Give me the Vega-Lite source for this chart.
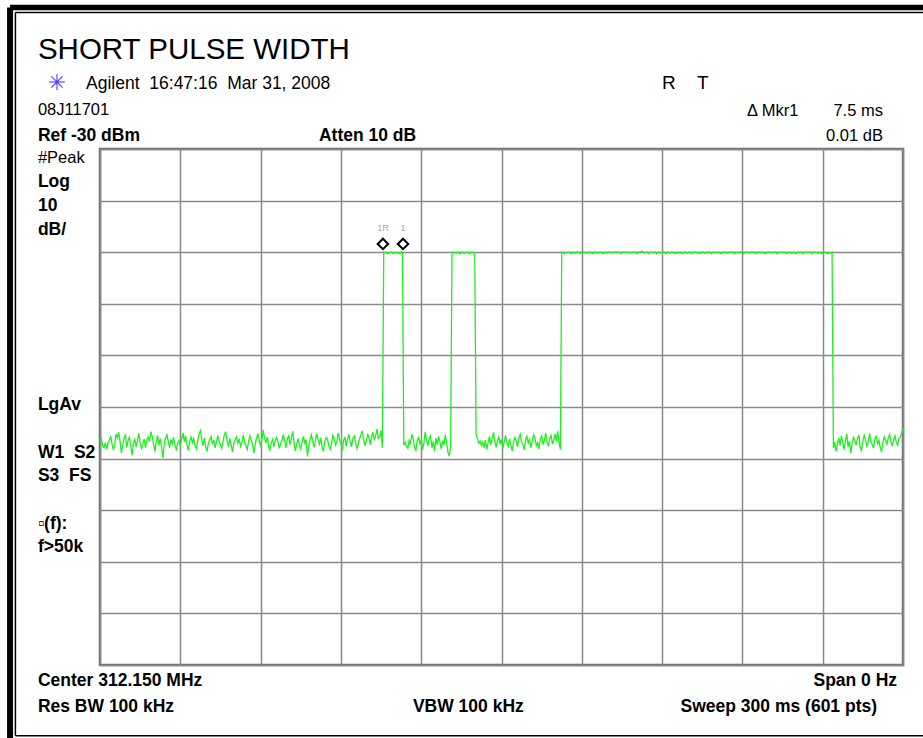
{
"$schema": "https://vega.github.io/schema/vega-lite/v6.json",
"usermeta": {"embedOptions": {"actions": false}},
"width": 803, "height": 516,
"autosize": {"type": "none"},
"padding": {"left": 100, "top": 149, "right": 20, "bottom": 73},
"background": "white",
"config": {"view": {"stroke": "#6e6e6e", "strokeWidth": 2.5}, "font": "Liberation Sans"},
"datasets": {
"trace": [
{"ms":0,"dBm":-86.8},{"ms":0.5,"dBm":-86.2},{"ms":1,"dBm":-87.5},{"ms":1.5,"dBm":-87.9},{"ms":2,"dBm":-86.9},{"ms":2.5,"dBm":-88.1},{"ms":3,"dBm":-87.0},{"ms":3.5,"dBm":-86.4},{"ms":4,"dBm":-85.6},{"ms":4.5,"dBm":-87.2},
{"ms":5,"dBm":-88.3},{"ms":5.5,"dBm":-87.1},{"ms":6,"dBm":-85.2},{"ms":6.5,"dBm":-86.0},{"ms":7,"dBm":-84.9},{"ms":7.5,"dBm":-86.7},{"ms":8,"dBm":-88.9},{"ms":8.5,"dBm":-87.4},{"ms":9,"dBm":-86.1},{"ms":9.5,"dBm":-85.3},
{"ms":10,"dBm":-87.8},{"ms":10.5,"dBm":-86.5},{"ms":11,"dBm":-85.9},{"ms":11.5,"dBm":-87.6},{"ms":12,"dBm":-89.4},{"ms":12.5,"dBm":-87.0},{"ms":13,"dBm":-86.3},{"ms":13.5,"dBm":-87.7},{"ms":14,"dBm":-86.6},{"ms":14.5,"dBm":-85.1},
{"ms":15,"dBm":-86.9},{"ms":15.5,"dBm":-88.0},{"ms":16,"dBm":-87.3},{"ms":16.5,"dBm":-86.2},{"ms":17,"dBm":-87.9},{"ms":17.5,"dBm":-86.4},{"ms":18,"dBm":-85.8},{"ms":18.5,"dBm":-86.7},{"ms":19,"dBm":-84.8},{"ms":19.5,"dBm":-85.7},
{"ms":20,"dBm":-87.2},{"ms":20.5,"dBm":-88.6},{"ms":21,"dBm":-86.8},{"ms":21.5,"dBm":-85.5},{"ms":22,"dBm":-87.4},{"ms":22.5,"dBm":-86.1},{"ms":23,"dBm":-87.8},{"ms":23.5,"dBm":-89.9},{"ms":24,"dBm":-87.3},{"ms":24.5,"dBm":-86.0},
{"ms":25,"dBm":-85.4},{"ms":25.5,"dBm":-86.6},{"ms":26,"dBm":-87.9},{"ms":26.5,"dBm":-86.3},{"ms":27,"dBm":-87.1},{"ms":27.5,"dBm":-85.9},{"ms":28,"dBm":-87.5},{"ms":28.5,"dBm":-88.2},{"ms":29,"dBm":-87.0},{"ms":29.5,"dBm":-86.5},
{"ms":30,"dBm":-87.6},{"ms":30.5,"dBm":-86.2},{"ms":31,"dBm":-85.0},{"ms":31.5,"dBm":-86.8},{"ms":32,"dBm":-85.6},{"ms":32.5,"dBm":-87.3},{"ms":33,"dBm":-88.4},{"ms":33.5,"dBm":-86.7},{"ms":34,"dBm":-85.8},{"ms":34.5,"dBm":-86.9},
{"ms":35,"dBm":-86.1},{"ms":35.5,"dBm":-87.4},{"ms":36,"dBm":-88.1},{"ms":36.5,"dBm":-86.6},{"ms":37,"dBm":-85.3},{"ms":37.5,"dBm":-84.6},{"ms":38,"dBm":-86.2},{"ms":38.5,"dBm":-87.5},{"ms":39,"dBm":-86.0},{"ms":39.5,"dBm":-87.8},
{"ms":40,"dBm":-88.6},{"ms":40.5,"dBm":-87.0},{"ms":41,"dBm":-86.3},{"ms":41.5,"dBm":-85.7},{"ms":42,"dBm":-87.2},{"ms":42.5,"dBm":-86.4},{"ms":43,"dBm":-87.9},{"ms":43.5,"dBm":-86.8},{"ms":44,"dBm":-85.5},{"ms":44.5,"dBm":-86.7},
{"ms":45,"dBm":-87.3},{"ms":45.5,"dBm":-88.0},{"ms":46,"dBm":-86.6},{"ms":46.5,"dBm":-85.2},{"ms":47,"dBm":-84.9},{"ms":47.5,"dBm":-86.5},{"ms":48,"dBm":-87.7},{"ms":48.5,"dBm":-86.1},{"ms":49,"dBm":-87.4},{"ms":49.5,"dBm":-88.7},
{"ms":50,"dBm":-87.1},{"ms":50.5,"dBm":-86.3},{"ms":51,"dBm":-85.8},{"ms":51.5,"dBm":-87.0},{"ms":52,"dBm":-86.2},{"ms":52.5,"dBm":-87.6},{"ms":53,"dBm":-86.9},{"ms":53.5,"dBm":-85.4},{"ms":54,"dBm":-86.8},{"ms":54.5,"dBm":-87.5},
{"ms":55,"dBm":-88.2},{"ms":55.5,"dBm":-86.7},{"ms":56,"dBm":-85.6},{"ms":56.5,"dBm":-86.4},{"ms":57,"dBm":-87.3},{"ms":57.5,"dBm":-88.9},{"ms":58,"dBm":-87.2},{"ms":58.5,"dBm":-86.0},{"ms":59,"dBm":-85.1},{"ms":59.5,"dBm":-86.6},
{"ms":60,"dBm":-87.4},{"ms":60.5,"dBm":-86.2},{"ms":61,"dBm":-84.5},{"ms":61.5,"dBm":-86.1},{"ms":62,"dBm":-87.0},{"ms":62.5,"dBm":-85.8},{"ms":63,"dBm":-87.6},{"ms":63.5,"dBm":-88.3},{"ms":64,"dBm":-86.9},{"ms":64.5,"dBm":-86.3},
{"ms":65,"dBm":-87.7},{"ms":65.5,"dBm":-86.5},{"ms":66,"dBm":-85.9},{"ms":66.5,"dBm":-86.8},{"ms":67,"dBm":-88.0},{"ms":67.5,"dBm":-87.1},{"ms":68,"dBm":-86.4},{"ms":68.5,"dBm":-85.3},{"ms":69,"dBm":-86.6},{"ms":69.5,"dBm":-87.9},
{"ms":70,"dBm":-86.2},{"ms":70.5,"dBm":-85.6},{"ms":71,"dBm":-87.3},{"ms":71.5,"dBm":-86.0},{"ms":72,"dBm":-84.7},{"ms":72.5,"dBm":-86.9},{"ms":73,"dBm":-88.5},{"ms":73.5,"dBm":-87.2},{"ms":74,"dBm":-86.1},{"ms":74.5,"dBm":-87.4},
{"ms":75,"dBm":-88.1},{"ms":75.5,"dBm":-86.8},{"ms":76,"dBm":-85.7},{"ms":76.5,"dBm":-87.0},{"ms":77,"dBm":-86.3},{"ms":77.5,"dBm":-89.6},{"ms":78,"dBm":-87.5},{"ms":78.5,"dBm":-86.2},{"ms":79,"dBm":-85.4},{"ms":79.5,"dBm":-86.7},
{"ms":80,"dBm":-87.8},{"ms":80.5,"dBm":-86.4},{"ms":81,"dBm":-85.1},{"ms":81.5,"dBm":-86.5},{"ms":82,"dBm":-87.2},{"ms":82.5,"dBm":-86.0},{"ms":83,"dBm":-87.9},{"ms":83.5,"dBm":-88.6},{"ms":84,"dBm":-86.6},{"ms":84.5,"dBm":-85.9},
{"ms":85,"dBm":-86.3},{"ms":85.5,"dBm":-87.5},{"ms":86,"dBm":-88.2},{"ms":86.5,"dBm":-86.9},{"ms":87,"dBm":-85.5},{"ms":87.5,"dBm":-86.1},{"ms":88,"dBm":-87.4},{"ms":88.5,"dBm":-86.7},{"ms":89,"dBm":-85.0},{"ms":89.5,"dBm":-86.4},
{"ms":90,"dBm":-87.1},{"ms":90.5,"dBm":-88.4},{"ms":91,"dBm":-86.5},{"ms":91.5,"dBm":-85.8},{"ms":92,"dBm":-87.6},{"ms":92.5,"dBm":-86.2},{"ms":93,"dBm":-85.3},{"ms":93.5,"dBm":-86.8},{"ms":94,"dBm":-87.7},{"ms":94.5,"dBm":-86.0},
{"ms":95,"dBm":-85.6},{"ms":95.5,"dBm":-86.9},{"ms":96,"dBm":-88.0},{"ms":96.5,"dBm":-87.2},{"ms":97,"dBm":-86.1},{"ms":97.5,"dBm":-85.4},{"ms":98,"dBm":-84.6},{"ms":98.5,"dBm":-86.3},{"ms":99,"dBm":-87.5},{"ms":99.5,"dBm":-86.6},
{"ms":100,"dBm":-85.2},{"ms":100.5,"dBm":-86.0},{"ms":101,"dBm":-87.3},{"ms":101.5,"dBm":-85.7},{"ms":102,"dBm":-84.9},{"ms":102.5,"dBm":-86.4},{"ms":103,"dBm":-85.5},{"ms":103.5,"dBm":-84.3},{"ms":104,"dBm":-86.1},{"ms":104.5,"dBm":-85.8},
{"ms":105,"dBm":-84.6},{"ms":105.5,"dBm":-87.9},
{"ms":106,"dBm":-50.0},{"ms":106.5,"dBm":-50.1},{"ms":107,"dBm":-50.0},{"ms":107.5,"dBm":-50.3},{"ms":108,"dBm":-50.2},{"ms":108.5,"dBm":-50.0},{"ms":109,"dBm":-50.0},{"ms":109.5,"dBm":-50.3},{"ms":110,"dBm":-50.1},{"ms":110.5,"dBm":-50.0},{"ms":111,"dBm":-50.2},{"ms":111.5,"dBm":-50.0},{"ms":112,"dBm":-50.3},{"ms":112.5,"dBm":-50.0},{"ms":113,"dBm":-50.0},
{"ms":113.5,"dBm":-87.4},{"ms":114,"dBm":-86.9},{"ms":114.5,"dBm":-87.6},{"ms":115,"dBm":-88.0},{"ms":115.5,"dBm":-86.5},{"ms":116,"dBm":-87.2},{"ms":116.5,"dBm":-85.3},{"ms":117,"dBm":-86.1},{"ms":117.5,"dBm":-87.8},{"ms":118,"dBm":-88.4},
{"ms":118.5,"dBm":-86.6},{"ms":119,"dBm":-85.9},{"ms":119.5,"dBm":-87.1},{"ms":120,"dBm":-86.3},{"ms":120.5,"dBm":-88.2},{"ms":121,"dBm":-87.0},{"ms":121.5,"dBm":-84.8},{"ms":122,"dBm":-86.4},{"ms":122.5,"dBm":-87.5},{"ms":123,"dBm":-86.2},
{"ms":123.5,"dBm":-85.6},{"ms":124,"dBm":-87.9},{"ms":124.5,"dBm":-86.7},{"ms":125,"dBm":-88.6},{"ms":125.5,"dBm":-86.0},{"ms":126,"dBm":-87.3},{"ms":126.5,"dBm":-85.7},{"ms":127,"dBm":-86.8},{"ms":127.5,"dBm":-88.1},{"ms":128,"dBm":-86.5},
{"ms":128.5,"dBm":-87.4},{"ms":129,"dBm":-85.4},{"ms":129.5,"dBm":-86.9},{"ms":130,"dBm":-88.8},{"ms":130.5,"dBm":-89.5},{"ms":131,"dBm":-87.6},
{"ms":131.5,"dBm":-50.0},{"ms":132,"dBm":-50.0},{"ms":132.5,"dBm":-50.2},{"ms":133,"dBm":-50.0},{"ms":133.5,"dBm":-50.1},{"ms":134,"dBm":-50.0},{"ms":134.5,"dBm":-50.3},{"ms":135,"dBm":-50.0},{"ms":135.5,"dBm":-50.0},{"ms":136,"dBm":-50.2},{"ms":136.5,"dBm":-50.1},{"ms":137,"dBm":-50.0},{"ms":137.5,"dBm":-50.0},{"ms":138,"dBm":-50.3},{"ms":138.5,"dBm":-50.0},{"ms":139,"dBm":-50.1},{"ms":139.5,"dBm":-50.0},{"ms":140,"dBm":-50.2},
{"ms":140.5,"dBm":-85.1},{"ms":141,"dBm":-86.2},{"ms":141.5,"dBm":-87.0},{"ms":142,"dBm":-86.6},{"ms":142.5,"dBm":-87.5},{"ms":143,"dBm":-86.8},{"ms":143.5,"dBm":-87.9},{"ms":144,"dBm":-86.4},{"ms":144.5,"dBm":-88.2},{"ms":145,"dBm":-86.9},
{"ms":145.5,"dBm":-85.7},{"ms":146,"dBm":-87.3},{"ms":146.5,"dBm":-86.1},{"ms":147,"dBm":-84.9},{"ms":147.5,"dBm":-86.7},{"ms":148,"dBm":-87.8},{"ms":148.5,"dBm":-86.5},{"ms":149,"dBm":-85.8},{"ms":149.5,"dBm":-87.1},{"ms":150,"dBm":-86.3},
{"ms":150.5,"dBm":-88.0},{"ms":151,"dBm":-86.8},{"ms":151.5,"dBm":-85.5},{"ms":152,"dBm":-86.9},{"ms":152.5,"dBm":-87.6},{"ms":153,"dBm":-86.2},{"ms":153.5,"dBm":-87.4},{"ms":154,"dBm":-88.5},{"ms":154.5,"dBm":-86.7},{"ms":155,"dBm":-85.9},
{"ms":155.5,"dBm":-86.6},{"ms":156,"dBm":-87.7},{"ms":156.5,"dBm":-86.0},{"ms":157,"dBm":-85.3},{"ms":157.5,"dBm":-86.8},{"ms":158,"dBm":-87.2},{"ms":158.5,"dBm":-88.3},{"ms":159,"dBm":-86.4},{"ms":159.5,"dBm":-85.7},{"ms":160,"dBm":-87.0},
{"ms":160.5,"dBm":-86.3},{"ms":161,"dBm":-87.9},{"ms":161.5,"dBm":-86.6},{"ms":162,"dBm":-85.4},{"ms":162.5,"dBm":-86.1},{"ms":163,"dBm":-87.5},{"ms":163.5,"dBm":-86.9},{"ms":164,"dBm":-88.1},{"ms":164.5,"dBm":-86.2},{"ms":165,"dBm":-85.6},
{"ms":165.5,"dBm":-87.3},{"ms":166,"dBm":-86.5},{"ms":166.5,"dBm":-85.0},{"ms":167,"dBm":-86.8},{"ms":167.5,"dBm":-87.6},{"ms":168,"dBm":-86.1},{"ms":168.5,"dBm":-85.5},{"ms":169,"dBm":-87.2},{"ms":169.5,"dBm":-86.4},{"ms":170,"dBm":-85.2},
{"ms":170.5,"dBm":-86.7},{"ms":171,"dBm":-84.7},{"ms":171.5,"dBm":-86.9},{"ms":172,"dBm":-88.2},
{"ms":172.5,"dBm":-50.0},{"ms":173,"dBm":-50.0},{"ms":173.5,"dBm":-50.3},{"ms":174,"dBm":-50.0},{"ms":174.5,"dBm":-50.1},{"ms":175,"dBm":-50.0},{"ms":175.5,"dBm":-50.0},{"ms":176,"dBm":-50.3},{"ms":176.5,"dBm":-50.0},{"ms":177,"dBm":-50.0},
{"ms":177.5,"dBm":-50.2},{"ms":178,"dBm":-50.0},{"ms":178.5,"dBm":-50.0},{"ms":179,"dBm":-50.0},{"ms":179.5,"dBm":-50.3},{"ms":180,"dBm":-50.0},{"ms":180.5,"dBm":-50.0},{"ms":181,"dBm":-50.1},{"ms":181.5,"dBm":-50.0},{"ms":182,"dBm":-50.2},
{"ms":182.5,"dBm":-50.0},{"ms":183,"dBm":-50.0},{"ms":183.5,"dBm":-50.0},{"ms":184,"dBm":-50.3},{"ms":184.5,"dBm":-50.0},{"ms":185,"dBm":-50.0},{"ms":185.5,"dBm":-50.0},{"ms":186,"dBm":-50.2},{"ms":186.5,"dBm":-50.0},{"ms":187,"dBm":-50.0},
{"ms":187.5,"dBm":-50.0},{"ms":188,"dBm":-50.3},{"ms":188.5,"dBm":-50.0},{"ms":189,"dBm":-50.1},{"ms":189.5,"dBm":-50.0},{"ms":190,"dBm":-50.0},{"ms":190.5,"dBm":-50.0},{"ms":191,"dBm":-50.0},{"ms":191.5,"dBm":-50.2},{"ms":192,"dBm":-50.0},
{"ms":192.5,"dBm":-50.0},{"ms":193,"dBm":-50.0},{"ms":193.5,"dBm":-50.0},{"ms":194,"dBm":-50.0},{"ms":194.5,"dBm":-50.3},{"ms":195,"dBm":-50.0},{"ms":195.5,"dBm":-50.0},{"ms":196,"dBm":-50.0},{"ms":196.5,"dBm":-50.0},{"ms":197,"dBm":-50.1},
{"ms":197.5,"dBm":-50.0},{"ms":198,"dBm":-50.2},{"ms":198.5,"dBm":-50.0},{"ms":199,"dBm":-50.0},{"ms":199.5,"dBm":-50.0},{"ms":200,"dBm":-50.0},{"ms":200.5,"dBm":-50.3},{"ms":201,"dBm":-50.0},{"ms":201.5,"dBm":-50.0},{"ms":202,"dBm":-50.0},
{"ms":202.5,"dBm":-49.8},{"ms":203,"dBm":-50.0},{"ms":203.5,"dBm":-50.2},{"ms":204,"dBm":-50.0},{"ms":204.5,"dBm":-50.0},{"ms":205,"dBm":-50.3},{"ms":205.5,"dBm":-50.0},{"ms":206,"dBm":-50.0},{"ms":206.5,"dBm":-50.1},{"ms":207,"dBm":-50.0},
{"ms":207.5,"dBm":-50.0},{"ms":208,"dBm":-50.3},{"ms":208.5,"dBm":-50.0},{"ms":209,"dBm":-50.0},{"ms":209.5,"dBm":-50.2},{"ms":210,"dBm":-50.0},{"ms":210.5,"dBm":-50.0},{"ms":211,"dBm":-50.0},{"ms":211.5,"dBm":-50.3},{"ms":212,"dBm":-50.0},
{"ms":212.5,"dBm":-50.0},{"ms":213,"dBm":-50.2},{"ms":213.5,"dBm":-50.0},{"ms":214,"dBm":-50.0},{"ms":214.5,"dBm":-50.0},{"ms":215,"dBm":-50.3},{"ms":215.5,"dBm":-50.0},{"ms":216,"dBm":-50.1},{"ms":216.5,"dBm":-50.0},{"ms":217,"dBm":-50.0},
{"ms":217.5,"dBm":-50.3},{"ms":218,"dBm":-50.0},{"ms":218.5,"dBm":-50.0},{"ms":219,"dBm":-50.0},{"ms":219.5,"dBm":-50.2},{"ms":220,"dBm":-50.0},{"ms":220.5,"dBm":-50.0},{"ms":221,"dBm":-50.3},{"ms":221.5,"dBm":-50.0},{"ms":222,"dBm":-50.0},
{"ms":222.5,"dBm":-50.0},{"ms":223,"dBm":-50.1},{"ms":223.5,"dBm":-50.0},{"ms":224,"dBm":-50.3},{"ms":224.5,"dBm":-50.0},{"ms":225,"dBm":-50.0},{"ms":225.5,"dBm":-50.0},{"ms":226,"dBm":-50.2},{"ms":226.5,"dBm":-50.0},{"ms":227,"dBm":-50.0},
{"ms":227.5,"dBm":-50.0},{"ms":228,"dBm":-50.0},{"ms":228.5,"dBm":-50.3},{"ms":229,"dBm":-50.0},{"ms":229.5,"dBm":-50.0},{"ms":230,"dBm":-50.0},{"ms":230.5,"dBm":-50.1},{"ms":231,"dBm":-50.0},{"ms":231.5,"dBm":-50.0},{"ms":232,"dBm":-50.3},
{"ms":232.5,"dBm":-50.0},{"ms":233,"dBm":-50.0},{"ms":233.5,"dBm":-50.0},{"ms":234,"dBm":-50.0},{"ms":234.5,"dBm":-50.2},{"ms":235,"dBm":-50.0},{"ms":235.5,"dBm":-50.0},{"ms":236,"dBm":-50.0},{"ms":236.5,"dBm":-50.0},{"ms":237,"dBm":-50.3},
{"ms":237.5,"dBm":-50.0},{"ms":238,"dBm":-50.0},{"ms":238.5,"dBm":-50.1},{"ms":239,"dBm":-50.0},{"ms":239.5,"dBm":-50.0},{"ms":240,"dBm":-50.0},{"ms":240.5,"dBm":-50.3},{"ms":241,"dBm":-50.0},{"ms":241.5,"dBm":-50.0},{"ms":242,"dBm":-50.0},
{"ms":242.5,"dBm":-50.2},{"ms":243,"dBm":-50.0},{"ms":243.5,"dBm":-50.0},{"ms":244,"dBm":-50.0},{"ms":244.5,"dBm":-50.0},{"ms":245,"dBm":-50.3},{"ms":245.5,"dBm":-50.0},{"ms":246,"dBm":-50.0},{"ms":246.5,"dBm":-50.0},{"ms":247,"dBm":-50.1},
{"ms":247.5,"dBm":-50.0},{"ms":248,"dBm":-50.0},{"ms":248.5,"dBm":-50.3},{"ms":249,"dBm":-50.0},{"ms":249.5,"dBm":-50.0},{"ms":250,"dBm":-50.0},{"ms":250.5,"dBm":-50.0},{"ms":251,"dBm":-50.2},{"ms":251.5,"dBm":-50.0},{"ms":252,"dBm":-50.0},
{"ms":252.5,"dBm":-50.0},{"ms":253,"dBm":-50.3},{"ms":253.5,"dBm":-50.0},{"ms":254,"dBm":-50.0},{"ms":254.5,"dBm":-50.1},{"ms":255,"dBm":-50.0},{"ms":255.5,"dBm":-50.0},{"ms":256,"dBm":-50.0},{"ms":256.5,"dBm":-50.3},{"ms":257,"dBm":-50.0},
{"ms":257.5,"dBm":-50.0},{"ms":258,"dBm":-50.0},{"ms":258.5,"dBm":-50.2},{"ms":259,"dBm":-50.0},{"ms":259.5,"dBm":-50.0},{"ms":260,"dBm":-50.3},{"ms":260.5,"dBm":-50.0},{"ms":261,"dBm":-50.0},{"ms":261.5,"dBm":-50.0},{"ms":262,"dBm":-50.0},
{"ms":262.5,"dBm":-50.3},{"ms":263,"dBm":-50.0},{"ms":263.5,"dBm":-50.0},{"ms":264,"dBm":-50.1},{"ms":264.5,"dBm":-50.0},{"ms":265,"dBm":-50.0},{"ms":265.5,"dBm":-50.0},{"ms":266,"dBm":-50.3},{"ms":266.5,"dBm":-50.0},{"ms":267,"dBm":-50.0},
{"ms":267.5,"dBm":-50.0},{"ms":268,"dBm":-50.2},{"ms":268.5,"dBm":-50.0},{"ms":269,"dBm":-50.0},{"ms":269.5,"dBm":-50.3},{"ms":270,"dBm":-50.0},{"ms":270.5,"dBm":-50.0},{"ms":271,"dBm":-50.0},{"ms":271.5,"dBm":-50.2},{"ms":272,"dBm":-50.3},
{"ms":272.5,"dBm":-50.0},{"ms":273,"dBm":-50.2},{"ms":273.5,"dBm":-50.0},
{"ms":274,"dBm":-87.9},{"ms":274.5,"dBm":-86.8},{"ms":275,"dBm":-88.6},{"ms":275.5,"dBm":-87.2},{"ms":276,"dBm":-86.0},{"ms":276.5,"dBm":-87.5},{"ms":277,"dBm":-85.6},{"ms":277.5,"dBm":-86.9},{"ms":278,"dBm":-88.2},{"ms":278.5,"dBm":-86.4},
{"ms":279,"dBm":-85.2},{"ms":279.5,"dBm":-87.7},{"ms":280,"dBm":-86.6},{"ms":280.5,"dBm":-88.9},{"ms":281,"dBm":-87.0},{"ms":281.5,"dBm":-85.9},{"ms":282,"dBm":-86.5},{"ms":282.5,"dBm":-87.4},{"ms":283,"dBm":-86.1},{"ms":283.5,"dBm":-85.4},
{"ms":284,"dBm":-87.8},{"ms":284.5,"dBm":-88.4},{"ms":285,"dBm":-86.7},{"ms":285.5,"dBm":-85.5},{"ms":286,"dBm":-86.3},{"ms":286.5,"dBm":-87.6},{"ms":287,"dBm":-86.9},{"ms":287.5,"dBm":-85.1},{"ms":288,"dBm":-86.6},{"ms":288.5,"dBm":-87.3},
{"ms":289,"dBm":-88.0},{"ms":289.5,"dBm":-86.2},{"ms":290,"dBm":-85.7},{"ms":290.5,"dBm":-87.1},{"ms":291,"dBm":-86.4},{"ms":291.5,"dBm":-87.9},{"ms":292,"dBm":-88.7},{"ms":292.5,"dBm":-86.8},{"ms":293,"dBm":-85.8},{"ms":293.5,"dBm":-86.5},
{"ms":294,"dBm":-87.2},{"ms":294.5,"dBm":-86.0},{"ms":295,"dBm":-85.3},{"ms":295.5,"dBm":-86.7},{"ms":296,"dBm":-87.6},{"ms":296.5,"dBm":-86.3},{"ms":297,"dBm":-85.6},{"ms":297.5,"dBm":-86.9},{"ms":298,"dBm":-87.4},{"ms":298.5,"dBm":-86.1},
{"ms":299,"dBm":-85.9},{"ms":299.5,"dBm":-85.0},{"ms":300,"dBm":-84.2}
],
"markers": [{"marker":"1R","ms":105.7,"dBm":-48.4},{"marker":"1","ms":113.2,"dBm":-48.4}],
"boldLeft": [
{"label":"Ref -30 dBm","ms":-23.2,"dBm":-28.45},
{"label":"Atten 10 dB","ms":81.8,"dBm":-28.45},
{"label":"Log","ms":-23.2,"dBm":-37.36},
{"label":"10","ms":-23.2,"dBm":-42.02},
{"label":"dB/","ms":-23.2,"dBm":-46.67},
{"label":"LgAv","ms":-23.2,"dBm":-80.58},
{"label":"W1\u00a0\u00a0S2","ms":-23.2,"dBm":-89.88},
{"label":"S3\u00a0\u00a0FS","ms":-23.2,"dBm":-94.34},
{"label":"▫(f):","ms":-23.2,"dBm":-103.64},
{"label":"f>50k","ms":-23.2,"dBm":-108.1},
{"label":"Center 312.150 MHz","ms":-23.2,"dBm":-134.07},
{"label":"Res BW 100 kHz","ms":-23.2,"dBm":-139.11},
{"label":"VBW 100 kHz","ms":116.9,"dBm":-139.11}
],
"boldRight": [
{"label":"Span 0 Hz","ms":297.8,"dBm":-134.07},
{"label":"Sweep 300 ms (601 pts)","ms":290.3,"dBm":-139.11}
],
"regLeft": [
{"label":"#Peak","ms":-23.2,"dBm":-32.71},
{"label":"08J11701","ms":-23.2,"dBm":-23.41},
{"label":"Δ Mkr1","ms":241.7,"dBm":-23.6}
],
"regRight": [
{"label":"7.5 ms","ms":292.5,"dBm":-23.6},
{"label":"0.01 dB","ms":292.5,"dBm":-28.45}
]
},
"encoding": {
"x": {"field": "ms", "type": "quantitative", "scale": {"domain": [0, 300], "nice": false, "zero": false},
"axis": {"values": [0,30,60,90,120,150,180,210,240,270,300], "grid": true, "gridColor": "#8a8a8a", "gridWidth": 1.5, "gridOpacity": 1, "labels": false, "ticks": false, "domain": false, "title": null}},
"y": {"field": "dBm", "type": "quantitative", "scale": {"domain": [-130, -30], "nice": false, "zero": false},
"axis": {"values": [-130,-120,-110,-100,-90,-80,-70,-60,-50,-40,-30], "grid": true, "gridColor": "#8a8a8a", "gridWidth": 1.5, "gridOpacity": 1, "labels": false, "ticks": false, "domain": false, "title": null}}
},
"layer": [
{"data": {"values": [{"ms": -33.6, "ms2": 400, "dBm": -2.6}]},
 "mark": {"type": "rule", "stroke": "black", "strokeWidth": 5.5},
 "encoding": {"x2": {"field": "ms2"}}},
{"data": {"values": [{"ms": -33.6, "dBm": -2.6, "dBm2": -160}]},
 "mark": {"type": "rule", "stroke": "black", "strokeWidth": 6},
 "encoding": {"y2": {"field": "dBm2"}}},
{"data": {"values": [{"ms": -31.6, "ms2": 400, "dBm": -3.55}, {"ms": -31.6, "ms2": 400, "dBm": -143.7}]},
 "mark": {"type": "rule", "stroke": "black", "strokeWidth": 1.5},
 "encoding": {"x2": {"field": "ms2"}}},
{"data": {"values": [{"ms": -31.6, "dBm": -3.55, "dBm2": -143.7}]},
 "mark": {"type": "rule", "stroke": "black", "strokeWidth": 1.5},
 "encoding": {"y2": {"field": "dBm2"}}},
{"data": {"name": "trace"},
 "mark": {"type": "line", "color": "#1ef01e", "strokeWidth": 1.3, "interpolate": "linear"}},
{"data": {"name": "markers"},
 "mark": {"type": "point", "shape": "diamond", "size": 110, "filled": true, "fill": "white", "stroke": "black", "strokeWidth": 2, "opacity": 1}},
{"data": {"name": "markers"},
 "mark": {"type": "text", "fontSize": 9, "color": "#a8a8a8", "dy": -13, "baseline": "alphabetic", "align": "center"},
 "encoding": {"text": {"field": "marker"}}},
{"data": {"name": "boldLeft"},
 "mark": {"type": "text", "fontSize": 17.5, "fontWeight": "bold", "align": "left", "baseline": "alphabetic", "color": "black"},
 "encoding": {"text": {"field": "label"}}},
{"data": {"name": "boldRight"},
 "mark": {"type": "text", "fontSize": 17.5, "fontWeight": "bold", "align": "right", "baseline": "alphabetic", "color": "black"},
 "encoding": {"text": {"field": "label"}}},
{"data": {"name": "regLeft"},
 "mark": {"type": "text", "fontSize": 16.5, "align": "left", "baseline": "alphabetic", "color": "black"},
 "encoding": {"text": {"field": "label"}}},
{"data": {"name": "regRight"},
 "mark": {"type": "text", "fontSize": 16.5, "align": "right", "baseline": "alphabetic", "color": "black"},
 "encoding": {"text": {"field": "label"}}},
{"data": {"values": [{"label": "Agilent\u00a0\u00a016:47:16\u00a0\u00a0Mar 31, 2008", "ms": -5.2, "dBm": -18.37}]},
 "mark": {"type": "text", "fontSize": 17.5, "align": "left", "baseline": "alphabetic", "color": "black"},
 "encoding": {"text": {"field": "label"}}},
{"data": {"values": [{"label": "R\u00a0\u00a0\u00a0\u00a0T", "ms": 210.0, "dBm": -18.37}]},
 "mark": {"type": "text", "fontSize": 19, "align": "left", "baseline": "alphabetic", "color": "black"},
 "encoding": {"text": {"field": "label"}}},
{"data": {"values": [{"label": "SHORT PULSE WIDTH", "ms": -23.2, "dBm": -12.56}]},
 "mark": {"type": "text", "fontSize": 29.5, "align": "left", "baseline": "alphabetic", "color": "black"},
 "encoding": {"text": {"field": "label"}}},
{"data": {"values": [{"label": "✳", "ms": -16.1, "dBm": -17.2}]},
 "mark": {"type": "text", "font": "DejaVu Sans", "fontSize": 22, "align": "center", "baseline": "middle", "color": "#4646ff"},
 "encoding": {"text": {"field": "label"}}}
]
}
